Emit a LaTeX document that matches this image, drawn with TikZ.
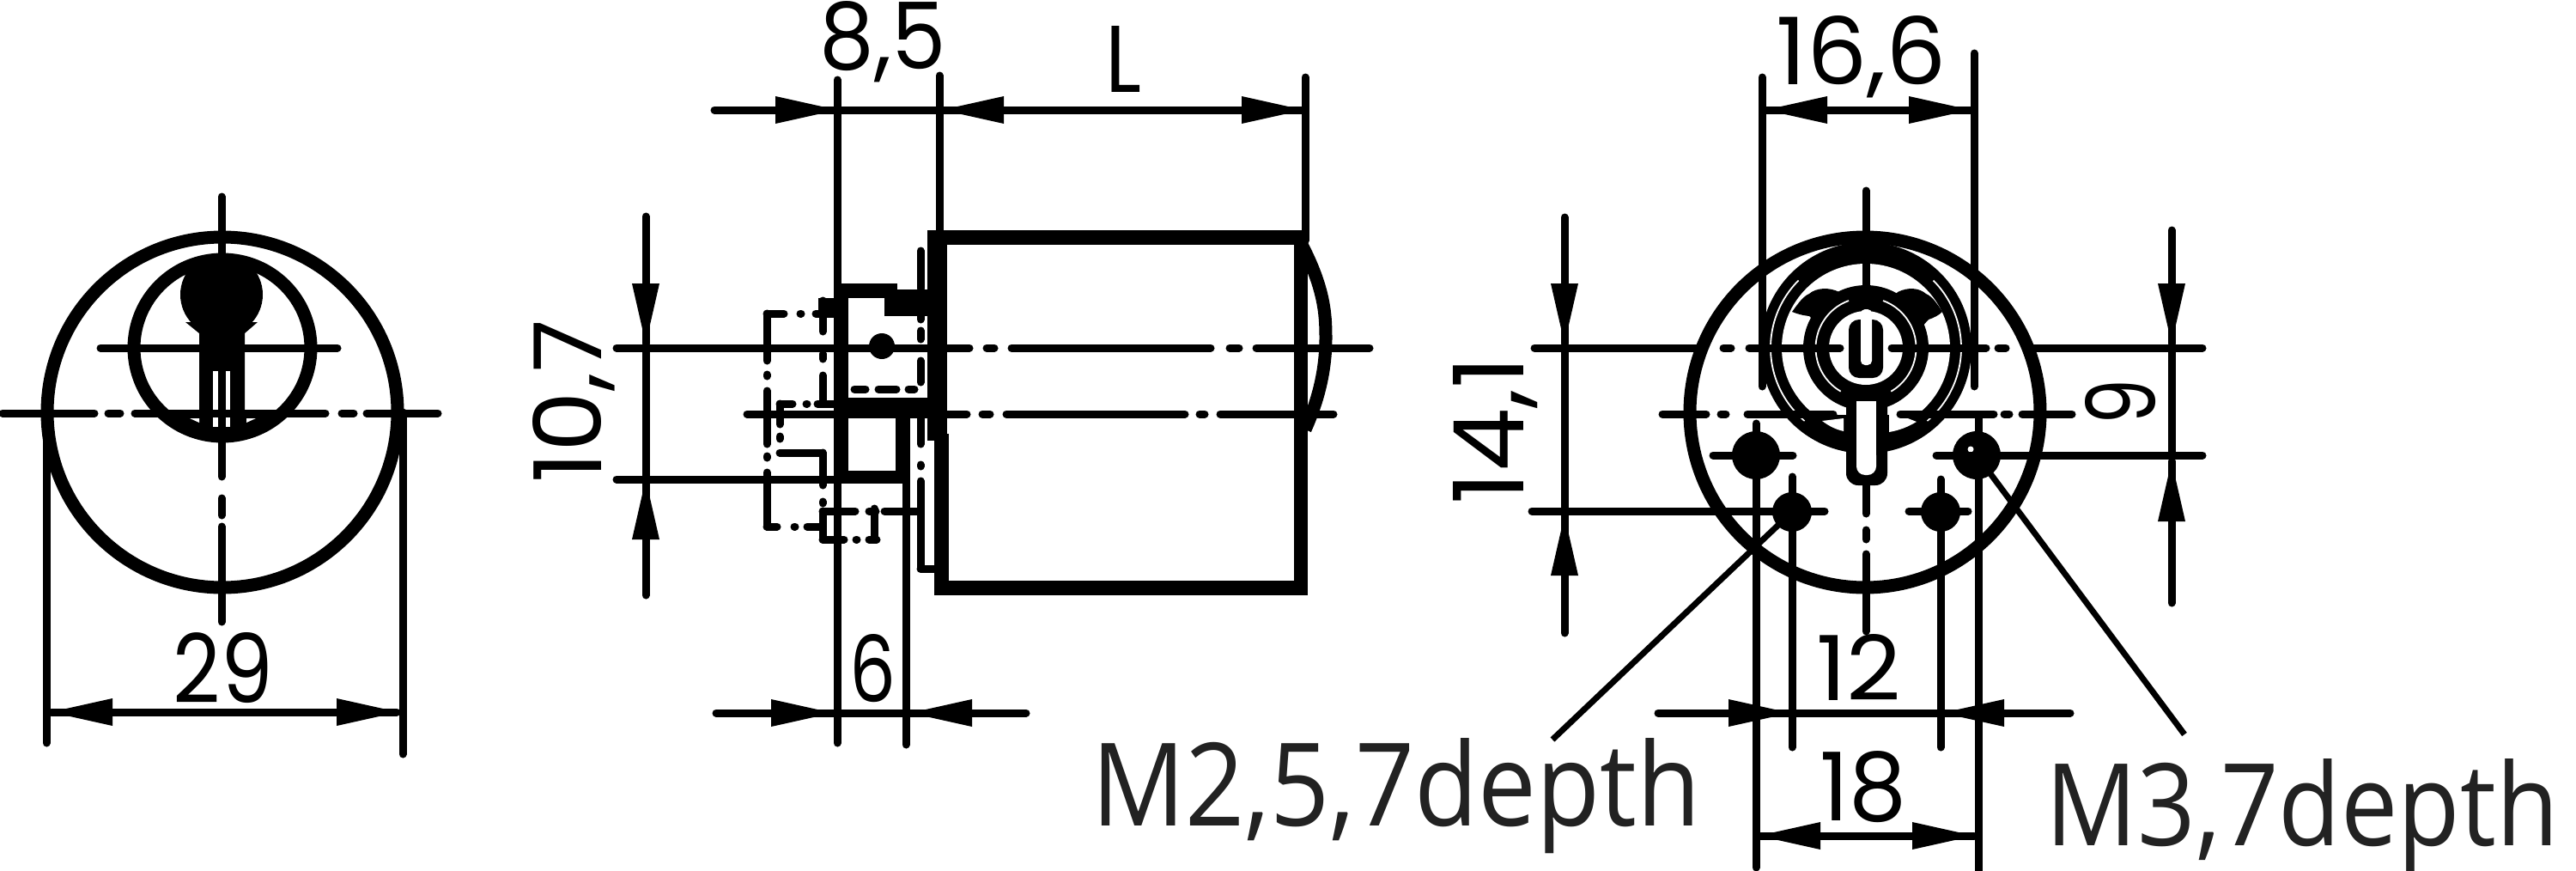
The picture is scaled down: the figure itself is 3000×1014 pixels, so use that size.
\documentclass[tikz,border=0pt]{standalone}
\usepackage{fontspec}
\newfontfamily\dimfont{Poppins}
\newfontfamily\notefont{Open Sans}
\newlength\px \setlength\px{0.02cm}
\definecolor{inkc}{HTML}{000000}
\definecolor{notec}{HTML}{222222}
\tikzset{
  thinl/.style={line width=9\px,line cap=round,draw=inkc},
  heavy/.style={line width=15\px,draw=inkc},
  lab/.style={inner sep=0pt,outer sep=0pt,text=inkc,anchor=base},
  notelab/.style={inner sep=0pt,outer sep=0pt,text=notec,anchor=base},
  solidk/.style={fill=inkc,draw=none},
  paper/.style={fill=white,draw=none},
  hair/.style={draw=white,line width=1.8\px},
}
% segmented lines
\newcommand{\hsegs}[2]{\foreach \a/\b in {#2}{\draw[thinl] (\a,#1) -- (\b,#1);}}
\newcommand{\vsegs}[2]{\foreach \a/\b in {#2}{\draw[thinl] (#1,\a) -- (#1,\b);}}
% arrow tips: point left, right, up, down at the tip position
\newcommand{\tipL}[2]{\fill[solidk] (#1,#2) -- ++(72,-16) -- ++(0,32) -- cycle;}
\newcommand{\tipR}[2]{\fill[solidk] (#1,#2) -- ++(-72,-16) -- ++(0,32) -- cycle;}
\newcommand{\tipU}[2]{\fill[solidk] (#1,#2) -- ++(-16,70) -- ++(32,0) -- cycle;}
\newcommand{\tipD}[2]{\fill[solidk] (#1,#2) -- ++(-16,-70) -- ++(32,0) -- cycle;}
% text fitted by width and height above baseline: name, x, baseline y, w, h, rotation, text
\newcommand{\dimtext}[7]{\node[lab,rotate=#6] (#1) at (#2,#3) {\resizebox{#4\px}{#5\px}{\dimfont #7}};}
\newcommand{\notetext}[6]{\node[notelab] (#1) at (#2,#3) {\resizebox{#4\px}{#5\px}{\notefont #6}};}
\begin{document}
\begin{tikzpicture}[x=0.02cm,y=-0.02cm]
\fill[white] (0,0) rectangle (3000,1014);
\useasboundingbox (0,0) rectangle (3000,1014);

% ---------- LEFT VIEW ----------
\draw[heavy] (259,480) circle[radius=204];
\draw[heavy] (259,405) circle[radius=103];
\begin{scope}
  \clip (259,405) circle[radius=103];
  \fill[solidk] (150,478) rectangle (370,520);
\end{scope}
% keyhole
\fill[solidk] (258,343) circle[radius=48];
\fill[solidk] (216,375) -- (232,388) -- (232,505) -- (285,505) -- (285,388) -- (300,375) -- cycle;
\fill[paper] (248,432) rectangle (268,478);
\fill[paper] (248,486) rectangle (268,497);
\fill[paper] (221,487) -- (232,487) -- (232,492) -- cycle;
\fill[paper] (287,487) -- (298,487) -- (287,492) -- cycle;
\hsegs{405}{117/393}
\hsegs{481}{3/110,126/140,157/379,398/412,427/510}
\vsegs{258}{229/555,580/600,613/724}
\draw[thinl] (54,480) -- (54,865);
\draw[thinl] (469,480) -- (469,878);
\hsegs{829}{60/462}
\tipL{59}{829}
\tipR{464}{829}
\dimtext{lab29}{260}{818}{116}{82}{0}{29}

% ---------- SIDE VIEW ----------
\vsegs{975}{93/865}
\vsegs{1094}{88/280}
\vsegs{1520}{90/280}
\vsegs{1055}{482/867}
\hsegs{128}{832/1520}
\tipR{975}{128}
\tipL{1097}{128}
\tipR{1518}{128}
\dimtext{lab85}{1028}{80}{147}{79}{0}{8,5}
\dimtext{labL}{1308}{107}{42}{77}{0}{L}
% body
\fill[solidk] (1080,268) rectangle (1523,285);
\fill[solidk] (1507,268) rectangle (1523,693);
\fill[solidk] (1088,676) rectangle (1523,693);
\fill[solidk] (1080,276) rectangle (1103,513);
\fill[solidk] (1088,505) rectangle (1105,693);
\draw[line width=15\px,draw=inkc] (1516,285) .. controls (1542,335) and (1544,365) .. (1544,393) .. controls (1544,425) and (1538,460) .. (1520,500);
% plate
\vsegs{1072}{292/336,368/372,385/395,420/445,487/517,541/543,560/662}
\draw[thinl] (1072,662) -- (1090,662);
% housing
\fill[solidk] (972,330) rectangle (988,563);
\fill[solidk] (972,330) rectangle (1045,347);
\fill[solidk] (1045,337) rectangle (1085,347);
\fill[solidk] (1030,347) rectangle (1085,368);
\fill[solidk] (953,347) rectangle (972,368);
\fill[solidk] (972,463) rectangle (1103,487);
\fill[solidk] (972,548) rectangle (1053,563);
\fill[solidk] (1043,482) rectangle (1060,563);
\fill[solidk] (1027,403) circle[radius=15];
\hsegs{453}{995/1008,1023/1044,1058/1065}
% dashed outlines
\vsegs{893}{365/420,436/438,455/517,531/533,550/613}
\hsegs{365}{893/913,932/933,950/972}
\hsegs{613}{893/905,925/926,940/955}
\vsegs{958}{350/386,412/418,437/470}
\hsegs{470}{908/923,939/940,952/972}
\vsegs{908}{470/494,508/511}
\hsegs{527}{908/958}
\vsegs{958}{527/565,584/586,595/628}
\hsegs{595}{958/996,1012/1020,1030/1070}
\vsegs{1018}{592/628}
\hsegs{628}{958/983,997/998,1012/1021}
% centre lines
\hsegs{405}{746/1129,1149/1158,1178/1410,1432/1443,1463/1595}
\hsegs{482}{870/1126,1144/1153,1172/1380,1397/1403,1421/1553}
\hsegs{558}{718/1050}
\hsegs{405}{718/746}
% 10,7
\vsegs{752}{252/400,558/693}
\vsegs{752}{405/558}
\tipD{752}{400}
\tipU{752}{558}
\dimtext{lab107}{700}{467}{190}{80}{90}{10,7}
% 6
\hsegs{830}{834/1195}
\tipR{970}{830}
\tipL{1060}{830}
\dimtext{labsix}{1016}{817}{54}{79}{0}{6}

% ---------- RIGHT VIEW ----------
\draw[heavy] (2172,480) circle[radius=204];
% outer ring + crescent
\fill[solidk] (2173,405) circle[radius=123];
\fill[paper] (2173,405) circle[radius=98];
\draw[hair] (2173,405) ++(130:111) arc[start angle=130,end angle=225,radius=111];
\draw[hair] (2173,405) ++(50:111) arc[start angle=50,end angle=-45,radius=111];
\begin{scope}
  \clip (2173,405) circle[radius=110];
  \fill[solidk] (2040,483) rectangle (2310,540);
\end{scope}
\fill[paper] (2122,490) -- (2147,487) -- (2147,502) .. controls (2138,500) and (2130,496) .. cycle;
\fill[paper] (2200,482) -- (2214,484) -- (2232,491) .. controls (2222,497) and (2212,501) .. (2200,503) -- cycle;
% ears
\fill[solidk] (2087,363) .. controls (2095,352) and (2100,345) .. (2107,342) .. controls (2115,335) and (2130,334) .. (2142,340) -- (2160,360) -- (2120,395) .. controls (2115,380) and (2112,372) .. (2107,368) .. controls (2098,367) and (2092,365) .. cycle;
\fill[solidk] (2262,363) .. controls (2255,352) and (2250,345) .. (2243,342) .. controls (2235,335) and (2222,334) .. (2210,340) -- (2190,360) -- (2230,395) .. controls (2235,385) and (2240,378) .. (2246,372) .. controls (2252,370) and (2258,367) .. cycle;
% ring C, D
\fill[solidk] (2173,405) circle[radius=73];
\draw[hair] (2173,405) ++(120:58.5) arc[start angle=120,end angle=250,radius=58.5];
\draw[hair] (2173,405) ++(60:58.5) arc[start angle=60,end angle=-70,radius=58.5];
\fill[paper] (2173,405) circle[radius=43];
% tail
\fill[solidk,rounded corners=14\px] (2150,455) -- (2150,565) -- (2198,565) -- (2198,455) -- cycle;
\fill[paper,rounded corners=10\px] (2162,520) -- (2162,553) -- (2185,553) -- (2185,520) -- cycle;
\fill[paper] (2162,467) rectangle (2185,530);
% key
\fill[solidk,rounded corners=12\px] (2153,372) -- (2153,440) -- (2193,440) -- (2193,372) -- cycle;
\fill[paper,rounded corners=5\px] (2167,360) -- (2167,425) -- (2180,425) -- (2180,360) -- cycle;
% holes
\fill[solidk] (2045,530) circle[radius=28];
\fill[solidk] (2087,596) circle[radius=23];
\fill[solidk] (2260,596) circle[radius=23];
\fill[solidk] (2302,530) circle[radius=28];
\fill[paper] (2295,523) circle[radius=3.5];
\hsegs{530}{1995/2088,2255/2565}
\hsegs{595}{1784/2125,2223/2292}
\vsegs{2045}{493/1010}
\vsegs{2087}{555/870}
\vsegs{2260}{558/870}
\vsegs{2304}{487/1014}
\vsegs{2052}{90/450}
\vsegs{2299}{62/450}
% centre lines
\hsegs{405}{1787/1978,2007/2016,2037/2143,2203/2313,2327/2336,2367/2565}
\hsegs{482}{1936/1987,2004/2010,2035/2135,2213/2322,2334/2340,2355/2413}
\vsegs{2173}{222/332,565/598,617/628,645/735}
% leaders
\draw[thinl,line cap=butt,line width=7\px] (2087,596) -- (1808,861);
\draw[thinl,line cap=butt,line width=7\px] (2302,530) -- (2544,855);
% dims
\hsegs{128}{2056/2295}
\tipL{2056}{128}
\tipR{2295}{128}
\dimtext{lab166}{2168}{98}{198}{80}{0}{16,6}
\vsegs{1822}{253/400,600/737}
\vsegs{1822}{404/595}
\tipD{1822}{400}
\tipU{1822}{600}
\dimtext{lab141}{1774}{501}{173}{82}{90}{14,1}
\vsegs{2529}{268/400,537/702}
\vsegs{2529}{406/532}
\tipD{2529}{400}
\tipU{2529}{537}
\dimtext{labnine}{2510}{468}{53}{82}{90}{9}
\hsegs{830}{1931/2411}
\tipR{2085}{830}
\tipL{2262}{830}
\dimtext{labtwelve}{2165}{815}{99}{77}{0}{12}
\hsegs{973}{2048/2299}
\tipL{2048}{973}
\tipR{2299}{973}
\dimtext{labeighteen}{2170}{955}{101}{81}{0}{18}
\notetext{noteA}{1626}{961}{709}{102}{M2,5,7depth}
\notetext{noteB}{2681}{984}{597}{101}{M3,7depth}
\end{tikzpicture}
\end{document}
